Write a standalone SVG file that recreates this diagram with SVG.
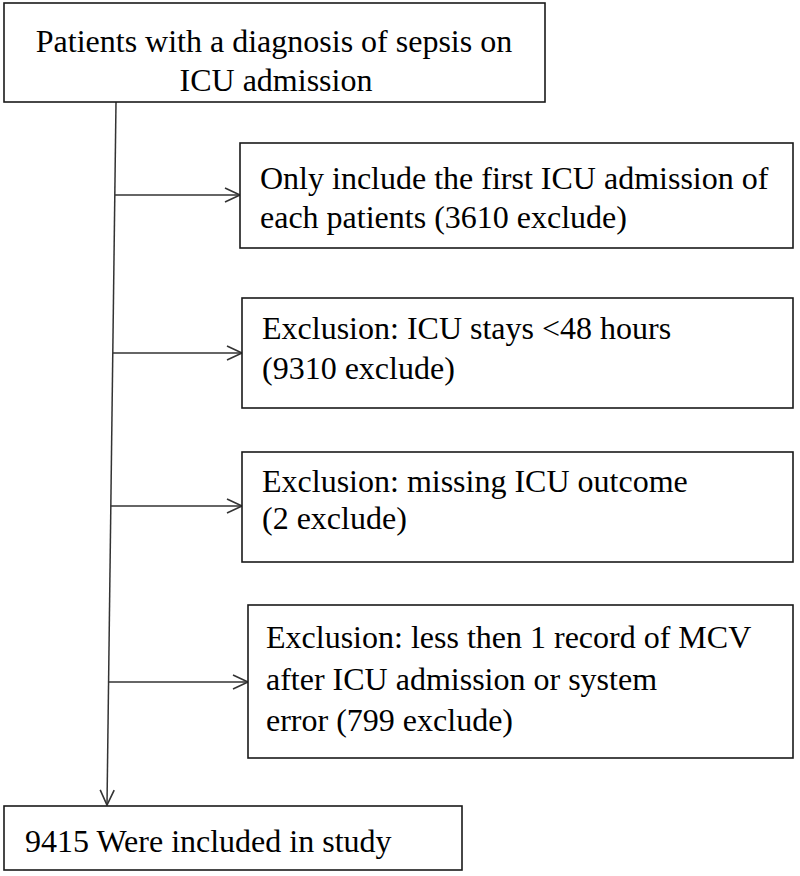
<svg xmlns="http://www.w3.org/2000/svg" width="800" height="876" viewBox="0 0 800 876">
<style>
.box{fill:#fff;stroke:#1a1a1a;stroke-width:1.6}
.t{font-size:32px;fill:#000}
.c{fill:none;stroke:#333;stroke-width:1.5}
</style>
<defs>
<marker id="ah" markerWidth="20" markerHeight="20" refX="16" refY="8" orient="auto" markerUnits="userSpaceOnUse">
<path d="M1,1 L16,8 L1,15" fill="none" stroke="#333" stroke-width="1.6"/>
</marker>
</defs>
<rect width="800" height="876" fill="#fff"/>
<g id="connectors">
<line class="c" x1="116" y1="102" x2="107" y2="805" marker-end="url(#ah)"/>
<line class="c" x1="115" y1="195" x2="240" y2="195" marker-end="url(#ah)"/>
<line class="c" x1="113" y1="353" x2="242" y2="353" marker-end="url(#ah)"/>
<line class="c" x1="111" y1="506" x2="242" y2="506" marker-end="url(#ah)"/>
<line class="c" x1="108.6" y1="682" x2="248" y2="682" marker-end="url(#ah)"/>
</g>
<g font-family="Liberation Serif, Times New Roman, Tinos, DejaVu Serif, serif">
<g id="start">
<rect class="box" x="4" y="3" width="541" height="99"/>
<text class="t" x="274" y="52" text-anchor="middle">Patients with a diagnosis of sepsis on</text>
<text class="t" x="276" y="91" text-anchor="middle">ICU admission</text>
</g>
<g id="excl1">
<rect class="box" x="240" y="143" width="553" height="105"/>
<text class="t" x="260" y="189">Only include the first ICU admission of</text>
<text class="t" x="260" y="228">each patients (3610 exclude)</text>
</g>
<g id="excl2">
<rect class="box" x="242" y="298" width="551" height="110"/>
<text class="t" x="262" y="339">Exclusion: ICU stays &lt;48 hours</text>
<text class="t" x="262" y="379">(9310 exclude)</text>
</g>
<g id="excl3">
<rect class="box" x="242" y="452" width="551" height="110"/>
<text class="t" x="262" y="492">Exclusion: missing ICU outcome</text>
<text class="t" x="262" y="529">(2 exclude)</text>
</g>
<g id="excl4">
<rect class="box" x="248" y="605" width="545" height="153"/>
<text class="t" x="266" y="648">Exclusion: less then 1 record of MCV</text>
<text class="t" x="266" y="690">after ICU admission or system</text>
<text class="t" x="266" y="731">error (799 exclude)</text>
</g>
<g id="included">
<rect class="box" x="4" y="806" width="458" height="64"/>
<text class="t" x="25" y="852">9415 Were included in study</text>
</g>
</g>
</svg>
